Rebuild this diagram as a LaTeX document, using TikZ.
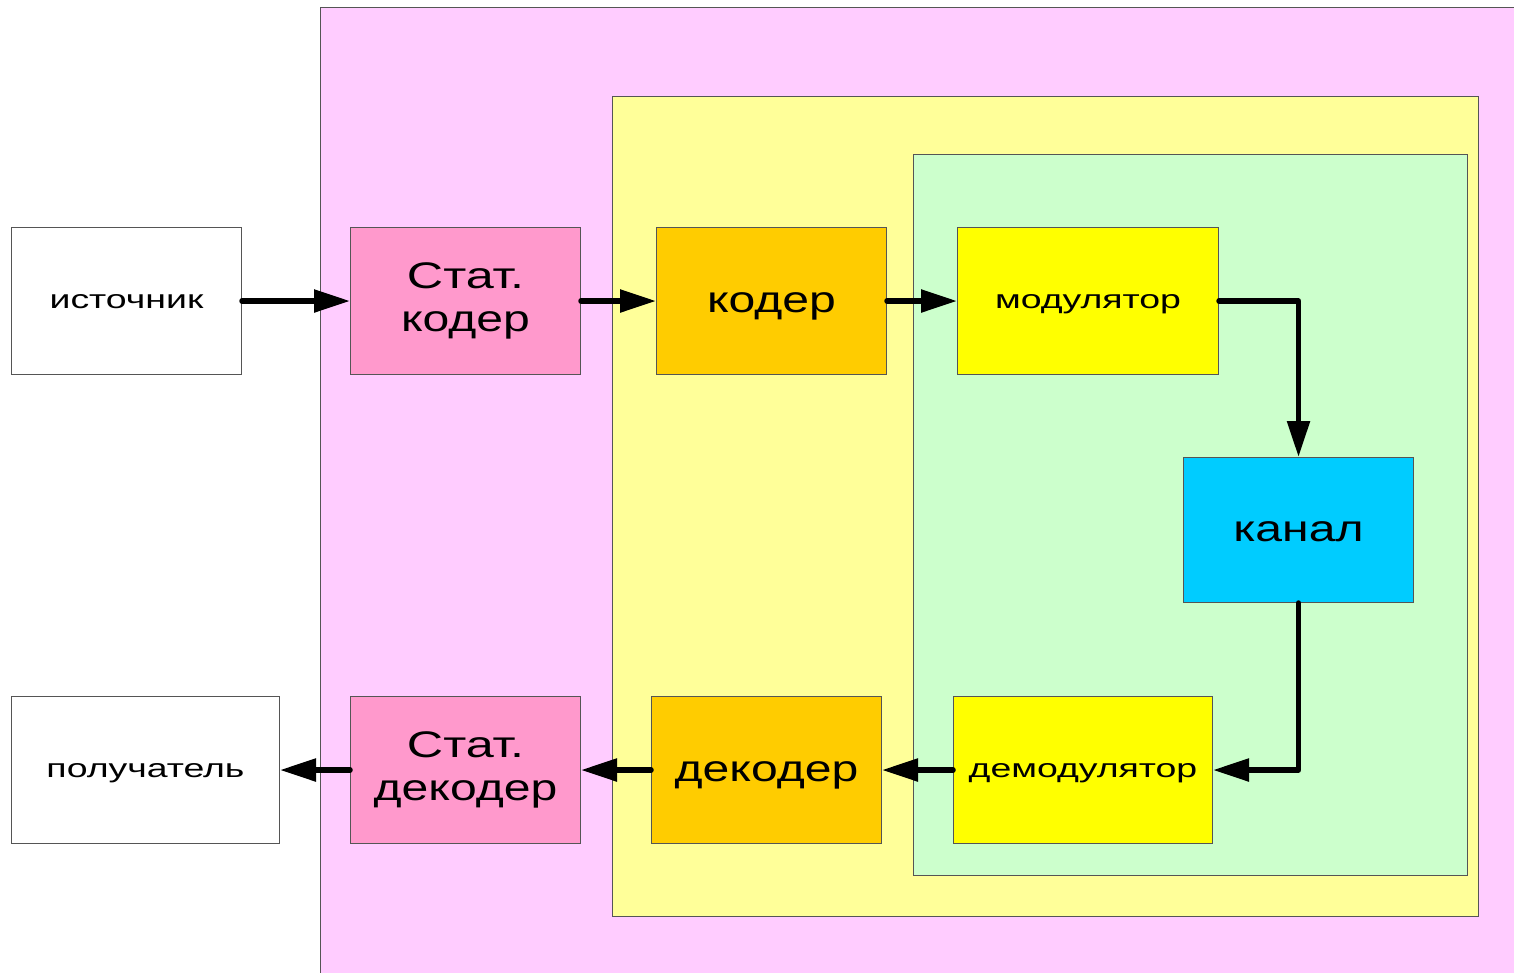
\documentclass[tikz,border=0pt]{standalone}
\usepackage{fontspec}
\usepackage{graphicx}
\setmainfont{Liberation Sans}
\usetikzlibrary{arrows.meta}
\definecolor{outerpink}{HTML}{FFCCFF}
\definecolor{midyellow}{HTML}{FFFF99}
\definecolor{innergreen}{HTML}{CCFFCC}
\definecolor{statpink}{HTML}{FF99CC}
\definecolor{coderorange}{HTML}{FFCC00}
\definecolor{modyellow}{HTML}{FFFF00}
\definecolor{chanblue}{HTML}{00CCFF}
\definecolor{edge}{HTML}{555555}
\newcommand{\hs}[2]{\scalebox{#1}[1]{#2}}
\newcommand{\sm}[1]{\raisebox{-7pt}[0pt][0pt]{\scalebox{1.44}[1]{#1}}}
\newcommand{\bg}[1]{\raisebox{-11.5pt}[0pt][0pt]{\scalebox{1.3}[1]{#1}}}
\tikzset{
  blk/.style={draw=edge, line width=1pt, inner sep=0pt, anchor=north west},
  small/.style={font=\fontsize{26}{30}\selectfont},
  big/.style={font=\fontsize{37}{43}\selectfont, align=center},
  flow/.style={line width=5.5pt, line cap=round, line join=round, -{Triangle[length=36pt,width=22pt]}},
  region/.style={draw=edge, line width=1pt}
}
\begin{document}
\begin{tikzpicture}[x=1pt,y=-1pt]
\clip (0,0) rectangle (1514,972);
\fill[white] (0,0) rectangle (1514,972);
\draw[region, fill=outerpink] (320,7) rectangle (1530,990);
\draw[region, fill=midyellow] (612,96) rectangle (1478,916);
\draw[region, fill=innergreen] (913,154) rectangle (1467,875);

\node[blk, fill=white, minimum width=230pt, minimum height=147pt, small] (src) at (11,227) {\sm{источник}};
\node[blk, fill=statpink, minimum width=230pt, minimum height=147pt, big] (scod) at (350,227) {\hs{1.36}{Стат.}\\\hs{1.3}{кодер}};
\node[blk, fill=coderorange, minimum width=230pt, minimum height=147pt, big] (cod) at (656,227) {\bg{кодер}};
\node[blk, fill=modyellow, minimum width=261pt, minimum height=147pt, small] (mod) at (957,227) {\sm{модулятор}};
\node[blk, fill=chanblue, minimum width=230pt, minimum height=145pt, big] (chan) at (1183,457) {\bg{канал}};
\node[blk, fill=modyellow, minimum width=259pt, minimum height=147pt, small] (demod) at (953,696) {\sm{демодулятор}};
\node[blk, fill=coderorange, minimum width=230pt, minimum height=147pt, big] (dec) at (651,696) {\bg{декодер}};
\node[blk, fill=statpink, minimum width=230pt, minimum height=147pt, big] (sdec) at (350,696) {\hs{1.36}{Стат.}\\\hs{1.3}{декодер}};
\node[blk, fill=white, minimum width=268pt, minimum height=147pt, small] (dst) at (11,696) {\sm{получатель}};

\draw[flow] (src.east) -- (scod.west);
\draw[flow] (scod.east) -- (cod.west);
\draw[flow] (cod.east) -- (mod.west);
\draw[flow] (mod.east) -| (chan.north);
\draw[flow] (chan.south) |- (demod.east);
\draw[flow] (demod.west) -- (dec.east);
\draw[flow] (dec.west) -- (sdec.east);
\draw[flow] (sdec.west) -- (dst.east);
\end{tikzpicture}
\end{document}
